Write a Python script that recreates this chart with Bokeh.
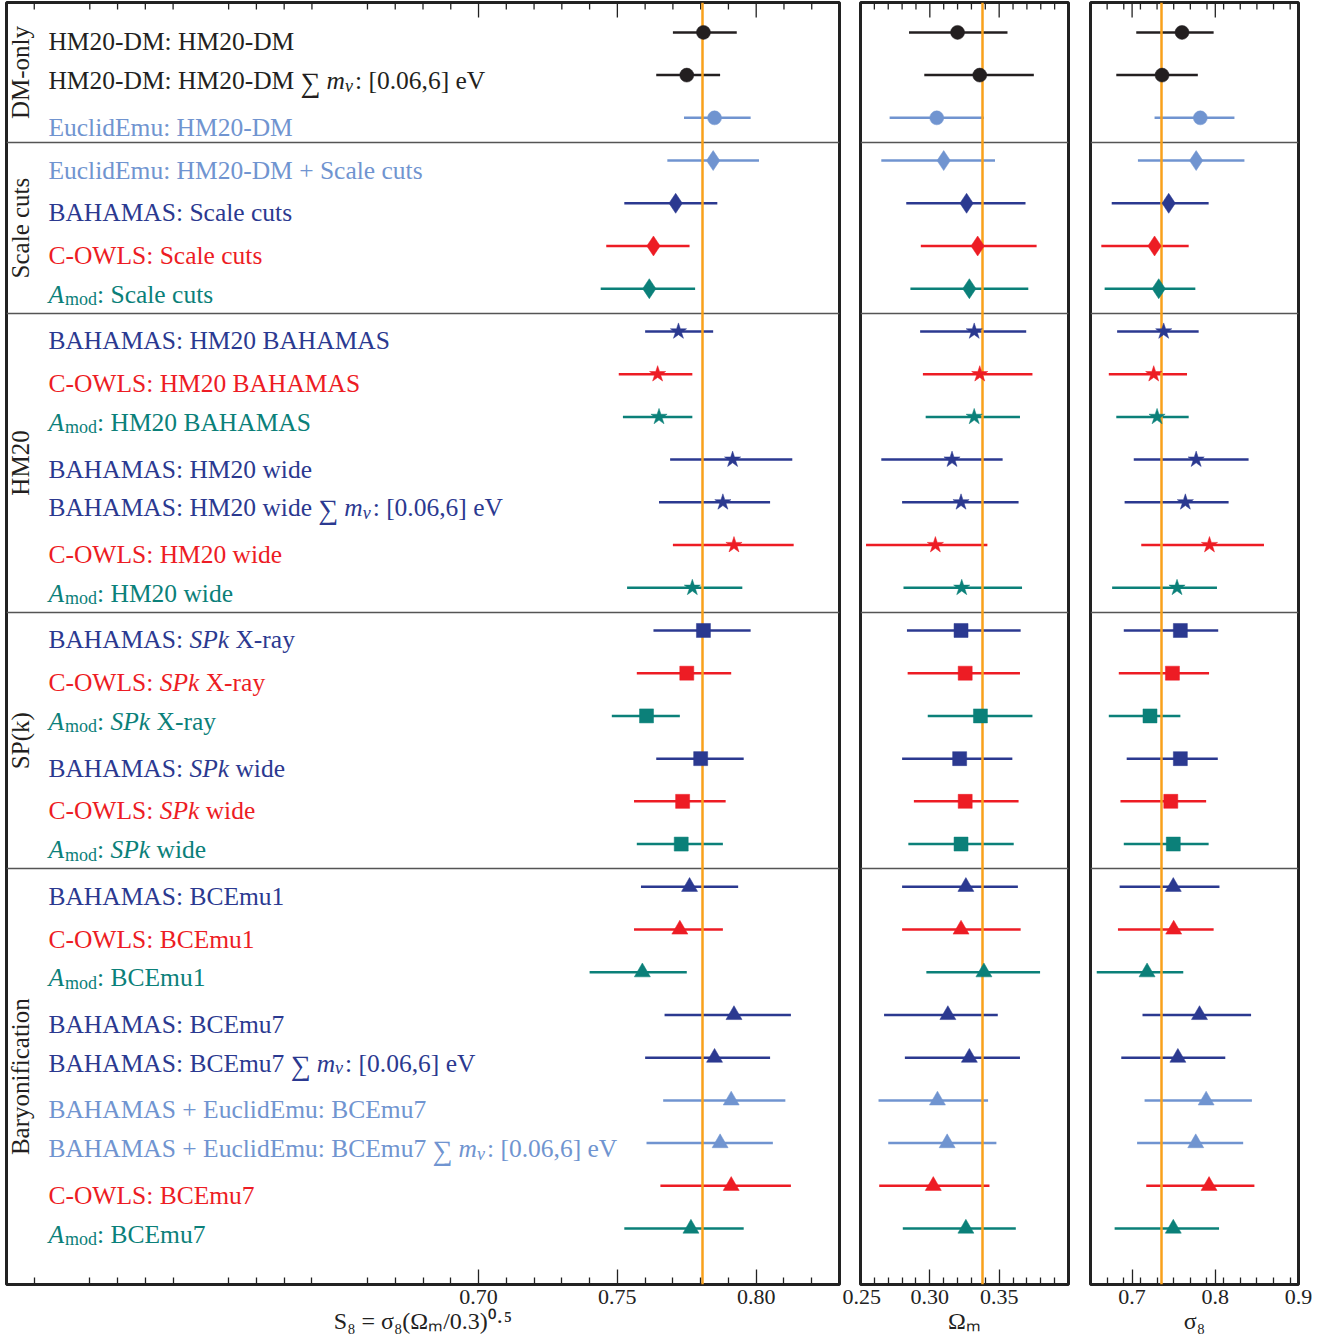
import re
import numpy as np
from bokeh.plotting import figure
from bokeh.layouts import row
from bokeh.models import Range1d, FixedTicker, LinearAxis, NumeralTickFormatter, ColumnDataSource, Grid
from bokeh.core.properties import value
from bokeh.embed import file_html
from bokeh.resources import INLINE

# ---------------- data ----------------
labels = [
    "HM20-DM: HM20-DM",
    "HM20-DM: HM20-DM {sum}: [0.06,6] eV",
    "EuclidEmu: HM20-DM",
    "EuclidEmu: HM20-DM + Scale cuts",
    "BAHAMAS: Scale cuts",
    "C-OWLS: Scale cuts",
    "{Amod}: Scale cuts",
    "BAHAMAS: HM20 BAHAMAS",
    "C-OWLS: HM20 BAHAMAS",
    "{Amod}: HM20 BAHAMAS",
    "BAHAMAS: HM20 wide",
    "BAHAMAS: HM20 wide {sum}: [0.06,6] eV",
    "C-OWLS: HM20 wide",
    "{Amod}: HM20 wide",
    "BAHAMAS: {SPk} X-ray",
    "C-OWLS: {SPk} X-ray",
    "{Amod}: {SPk} X-ray",
    "BAHAMAS: {SPk} wide",
    "C-OWLS: {SPk} wide",
    "{Amod}: {SPk} wide",
    "BAHAMAS: BCEmu1",
    "C-OWLS: BCEmu1",
    "{Amod}: BCEmu1",
    "BAHAMAS: BCEmu7",
    "BAHAMAS: BCEmu7 {sum}: [0.06,6] eV",
    "BAHAMAS + EuclidEmu: BCEmu7",
    "BAHAMAS + EuclidEmu: BCEmu7 {sum}: [0.06,6] eV",
    "C-OWLS: BCEmu7",
    "{Amod}: BCEmu7",
]
groups = ["DM-only", "Scale cuts", "HM20", "SP(k)", "Baryonification"]
group_sizes = [3, 4, 7, 6, 9]

BLACK = "#231f20"
LBLUE = "#7094d0"
NAVY = "#2b3990"
RED = "#ed1c24"
TEAL = "#0b8079"
ORANGE = "#f9a11b"

row_colors = [BLACK, BLACK, LBLUE,
              LBLUE, NAVY, RED, TEAL,
              NAVY, RED, TEAL, NAVY, NAVY, RED, TEAL,
              NAVY, RED, TEAL, NAVY, RED, TEAL,
              NAVY, RED, TEAL, NAVY, NAVY, LBLUE, LBLUE, RED, TEAL]

s8 = [0.781, 0.775, 0.785, 0.7845, 0.771, 0.763, 0.7615,
      0.772, 0.7645, 0.765, 0.7915, 0.788, 0.792, 0.777,
      0.781, 0.775, 0.7605, 0.780, 0.7735, 0.773,
      0.776, 0.7725, 0.759, 0.792, 0.785, 0.791, 0.787, 0.791, 0.7765]
s8_lo = [0.770, 0.764, 0.774, 0.768, 0.7525, 0.746, 0.744,
         0.760, 0.7505, 0.752, 0.769, 0.765, 0.770, 0.7535,
         0.763, 0.757, 0.748, 0.764, 0.756, 0.757,
         0.7585, 0.756, 0.740, 0.767, 0.760, 0.7665, 0.7605, 0.7655, 0.7525]
s8_hi = [0.793, 0.787, 0.798, 0.801, 0.786, 0.776, 0.778,
         0.7845, 0.777, 0.777, 0.813, 0.805, 0.8135, 0.795,
         0.798, 0.791, 0.7725, 0.7955, 0.789, 0.788,
         0.7935, 0.788, 0.775, 0.8125, 0.805, 0.8105, 0.806, 0.8125, 0.7955]

om = [0.320, 0.336, 0.305, 0.310, 0.3265, 0.3345, 0.3285,
      0.332, 0.336, 0.332, 0.316, 0.3225, 0.304, 0.323,
      0.3225, 0.3255, 0.3365, 0.3215, 0.3255, 0.3225,
      0.326, 0.3225, 0.339, 0.313, 0.3285, 0.3055, 0.3125, 0.3025, 0.326]
om_lo = [0.285, 0.296, 0.271, 0.265, 0.283, 0.2935, 0.286,
         0.293, 0.295, 0.297, 0.265, 0.280, 0.254, 0.281,
         0.2835, 0.284, 0.2985, 0.280, 0.2885, 0.2845,
         0.280, 0.280, 0.2975, 0.267, 0.282, 0.263, 0.270, 0.2635, 0.2805]
om_hi = [0.356, 0.375, 0.339, 0.347, 0.369, 0.377, 0.371,
         0.3695, 0.374, 0.365, 0.3525, 0.364, 0.3415, 0.3665,
         0.3655, 0.365, 0.374, 0.3595, 0.364, 0.3605,
         0.3635, 0.3655, 0.3795, 0.349, 0.365, 0.342, 0.348, 0.343, 0.362]

sig = [0.760, 0.736, 0.782, 0.777, 0.744, 0.727, 0.732,
       0.738, 0.726, 0.730, 0.777, 0.764, 0.793, 0.754,
       0.758, 0.7485, 0.7215, 0.758, 0.7465, 0.7495,
       0.7495, 0.750, 0.718, 0.781, 0.755, 0.789, 0.7765, 0.7925, 0.7495]
sig_lo = [0.705, 0.681, 0.727, 0.707, 0.6755, 0.663, 0.667,
          0.682, 0.672, 0.681, 0.702, 0.691, 0.711, 0.676,
          0.690, 0.684, 0.672, 0.6935, 0.686, 0.690,
          0.685, 0.683, 0.6575, 0.7125, 0.687, 0.715, 0.706, 0.717, 0.679]
sig_hi = [0.798, 0.779, 0.823, 0.835, 0.792, 0.768, 0.776,
          0.780, 0.766, 0.768, 0.840, 0.816, 0.8585, 0.802,
          0.8035, 0.7925, 0.758, 0.803, 0.789, 0.792,
          0.805, 0.798, 0.7615, 0.843, 0.812, 0.844, 0.8335, 0.847, 0.8045]

S8_REF = 0.7805
OM_REF = 0.338
SIG_REF = 0.735

s8_ticks = [0.70, 0.75, 0.80]
om_ticks = [0.25, 0.30, 0.35]
sig_ticks = [0.7, 0.8, 0.9]

# ---------------- style / layout ----------------
FONT = "Liberation Serif"
AXFONT = "'Liberation Serif', serif"
FS = 25.5        # label font size px
FSS = 18         # subscript size
FSUM = 28        # sum sign size
H = 1336
Y_TOP, Y_BOT = 0.3, 30.31
ROWPX = 42.6
LABEL_X = 0.5451
GROUP_X = 0.5350

GROUP_MARKERS = ["circle", "diamond", "star", "square", "triangle"]
GROUP_MSIZE = [14, 20, 17, 14, 16]

n = len(labels)
ys = list(range(1, n + 1))
markers, msizes = [], []
for g, k in enumerate(group_sizes):
    markers += [GROUP_MARKERS[g]] * k
    msizes += [GROUP_MSIZE[g]] * k
cum = np.cumsum(group_sizes)[:-1]
seps = [float(c) + 0.58 for c in cum]
bounds = [Y_TOP] + seps + [Y_BOT]
gcent = [(bounds[i] + bounds[i + 1]) / 2 for i in range(len(groups))]

# Times (Liberation Serif) advance widths, per 1000 em
REG = {' ': 250, '+': 564, ',': 250, '-': 333, '.': 250, ':': 278, '[': 333, ']': 333,
       '(': 333, ')': 333, 'A': 722, 'B': 667, 'C': 667, 'D': 722, 'E': 611, 'H': 722,
       'L': 611, 'M': 889, 'O': 722, 'S': 556, 'V': 722, 'W': 944, 'X': 722,
       'a': 444, 'c': 444, 'd': 500, 'e': 444, 'i': 278, 'l': 278, 'm': 778, 'o': 500,
       'r': 333, 's': 389, 't': 278, 'u': 500, 'w': 722, 'y': 500}
ITA = {'A': 611, 'S': 500, 'P': 611, 'k': 444, 'm': 722}


def tw(s, table, size):
    return sum(table.get(c, 500) for c in s) / 1000.0 * size


def segments(label):
    out = []
    x = 0.0
    for part in re.split(r"(\{Amod\}|\{sum\}|\{SPk\})", label):
        if part == "":
            continue
        if part == "{Amod}":
            out.append(("A", x, 0, FS, "italic"))
            x += tw("A", ITA, FS) + 1
            out.append(("mod", x, 5, FSS, "normal"))
            x += tw("mod", REG, FSS)
        elif part == "{sum}":
            out.append(("\u2211", x, 2, FSUM, "normal"))
            x += 0.713 * FSUM + 6
            out.append(("m", x, 0, FS, "italic"))
            x += tw("m", ITA, FS)
            out.append(("\u03bd", x, 5, FSS, "italic"))
            x += 0.5 * FSS + 1
        elif part == "{SPk}":
            out.append(("SPk", x, 0, FS, "italic"))
            x += tw("SPk", ITA, FS)
        else:
            lead = len(part) - len(part.lstrip(" "))
            trail = len(part) - len(part.rstrip(" "))
            x += lead * 0.25 * FS
            t = part.strip(" ")
            out.append((t, x, 0, FS, "normal"))
            x += tw(t, REG, FS) + trail * 0.25 * FS
    return out


def make_panel(xr, vals, lo, hi, ref, width, mbl, mbr, ticks, minor, fmt, xlabel):
    p = figure(width=width, height=H, x_range=Range1d(*xr), y_range=Range1d(Y_BOT, Y_TOP),
               output_backend="svg", toolbar_location=None,
               x_axis_location=None, y_axis_location=None,
               min_border_left=mbl, min_border_right=mbr, min_border_top=2, min_border_bottom=50)
    p.center = [c for c in p.center if not isinstance(c, Grid)]
    p.background_fill_color = "white"
    p.border_fill_color = "white"
    p.outline_line_color = "#222222"
    p.outline_line_width = 3
    p.outline_line_alpha = 1.0

    ticker = FixedTicker(ticks=ticks, minor_ticks=minor)
    ax = LinearAxis(ticker=ticker, formatter=NumeralTickFormatter(format=fmt), axis_label=xlabel,
                    major_label_text_font=AXFONT, axis_label_text_font=AXFONT)
    ax.axis_line_color = None
    ax.major_tick_in = 15
    ax.major_tick_out = 0
    ax.minor_tick_in = 7
    ax.minor_tick_out = 0
    ax.major_tick_line_color = "#222222"
    ax.minor_tick_line_color = "#222222"
    ax.major_tick_line_width = 1.3
    ax.minor_tick_line_width = 1.3
    ax.major_label_text_font_size = "22px"
    ax.major_label_text_color = "#222222"
    ax.major_label_standoff = 5
    ax.axis_label_text_font_size = "24px"
    ax.axis_label_text_font_style = "normal"
    ax.axis_label_text_color = "#222222"
    ax.axis_label_standoff = 1
    p.add_layout(ax, "below")

    src = ColumnDataSource(dict(y=ys, x=vals, lo=lo, hi=hi, color=row_colors,
                                marker=markers, size=msizes))
    p.hspan(y=seps, line_color="#555555", line_width=1.6)
    # mirrored ticks along the top edge (half of each dash is clipped by the frame)
    p.scatter(x=ticks, y=[Y_TOP] * len(ticks), marker="dash", angle=np.pi / 2, size=30,
              line_color="#222222", line_width=1.3)
    p.scatter(x=minor, y=[Y_TOP] * len(minor), marker="dash", angle=np.pi / 2, size=14,
              line_color="#222222", line_width=1.3)
    p.segment(x0="lo", x1="hi", y0="y", y1="y", line_color="color", line_width=2.5, source=src)
    p.vspan(x=[ref], line_color=ORANGE, line_width=2.5)
    p.scatter(x="x", y="y", marker="marker", size="size", fill_color="color",
              line_color="color", line_width=0.5, source=src)
    return p


def minor_list(a, b, step, major_step):
    out = []
    k = 0
    v = a
    while v <= b + 1e-9:
        r = round(v / major_step)
        if abs(v - r * major_step) > 1e-6:
            out.append(round(v, 3))
        k += 1
        v = a + k * step
    return out


p1 = make_panel((0.53, 0.83), s8, s8_lo, s8_hi, S8_REF, 842, 6, 3, s8_ticks,
                minor_list(0.53, 0.83, 0.01, 0.05), "0.00",
                "S\u2088 = \u03c3\u2088(\u03a9\u2098/0.3)\u2070\u00b7\u2075")
p2 = make_panel((0.25, 0.40), om, om_lo, om_hi, OM_REF, 236, 18, 10, om_ticks,
                minor_list(0.25, 0.40, 0.01, 0.05), "0.00", "\u03a9\u2098")
p3 = make_panel((0.65, 0.90), sig, sig_lo, sig_hi, SIG_REF, 240, 12, 20, sig_ticks,
                minor_list(0.65, 0.90, 0.02, 0.1), "0.0", "\u03c3\u2088")

# labels
seg = dict(x=[], y=[], text=[], dx=[], fs=[], style=[], color=[])
for i, lab in enumerate(labels):
    base = 5.5 if ("{Amod}" in lab or "{sum}" in lab) else 9.5
    for (t, dx, dy, size, style) in segments(lab):
        seg["x"].append(LABEL_X)
        seg["y"].append(ys[i] + (base + dy) / ROWPX)
        seg["text"].append(t)
        seg["dx"].append(dx)
        seg["fs"].append("%gpx" % size)
        seg["style"].append(style)
        seg["color"].append(row_colors[i])
p1.text(x="x", y="y", text="text", x_offset="dx", text_font_size="fs",
        text_font_style="style", text_color="color", text_font=value(FONT),
        text_align="left", text_baseline="alphabetic", source=ColumnDataSource(seg))

p1.text(x=[GROUP_X] * len(groups), y=gcent, text=groups, angle=np.pi / 2,
        text_align="center", text_baseline="middle", text_font=value(FONT),
        text_font_size="25px", text_color=BLACK)

layout = row(p1, p2, p3)
open("out.html", "w").write(file_html(layout, INLINE))
